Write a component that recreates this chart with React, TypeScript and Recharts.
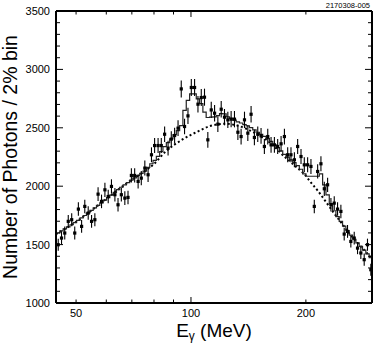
import React from 'react';
import { ComposedChart, XAxis, YAxis, Scatter, Line, ErrorBar } from 'recharts';

// Photon energy bin centres (MeV), 2% bins
const binEnergies = [
  44.9, 45.8, 46.7, 47.7, 48.7, 49.6, 50.7, 51.7, 52.7, 53.8,
  54.9, 56.0, 57.1, 58.3, 59.5, 60.7, 61.9, 63.2, 64.4, 65.7,
  67.1, 68.4, 69.8, 71.2, 72.7, 74.1, 75.7, 77.2, 78.8, 80.3,
  82.0, 83.6, 85.3, 87.1, 88.8, 90.6, 92.5, 94.3, 96.2, 98.2,
  100.2, 102.2, 104.3, 106.4, 108.5, 110.7, 113.0, 115.3, 117.6, 120.0,
  122.4, 124.9, 127.4, 130.0, 132.7, 135.3, 138.1, 140.9, 143.7, 146.6,
  149.6, 152.6, 155.7, 158.9, 162.1, 165.4, 168.7, 172.2, 175.7, 179.2,
  182.8, 186.6, 190.3, 194.2, 198.1, 202.1, 206.2, 210.4, 214.7, 219.0,
  223.5, 228.0, 232.6, 237.3, 242.1, 247.0, 252.0, 257.1, 262.3, 267.7,
  273.1, 278.6, 284.3, 290.0, 295.9,
];

// Measured photon counts per bin
const counts = [
  1499, 1556, 1599, 1699, 1713, 1599, 1804, 1656, 1827, 1770,
  1699, 1713, 1932, 1870, 1969, 1912, 1998, 1927, 1841, 1927,
  1898, 1904, 2092, 2092, 2041, 2069, 2155, 2098, 2269, 2348,
  2348, 2348, 2445, 2326, 2403, 2434, 2497, 2833, 2511, 2602,
  2845, 2845, 2702, 2759, 2762, 2397, 2653, 2625, 2531, 2659,
  2591, 2568, 2574, 2574, 2462, 2425, 2568, 2454, 2616, 2417,
  2445, 2431, 2340, 2425, 2354, 2354, 2340, 2363, 2425, 2269,
  2269, 2226, 2340, 2254, 2183, 2183, 2169, 1827, 2126, 2192,
  1978, 2012, 1841, 1855, 1804, 1784, 1590, 1613, 1527, 1556,
  1470, 1428, 1371, 1499, 1285,
];

// Statistical errors per bin
const countErrors = [
  52, 55, 55, 55, 55, 55, 58, 55, 58, 58,
  55, 55, 58, 58, 61, 58, 61, 58, 58, 58,
  58, 58, 61, 61, 61, 61, 64, 61, 64, 64,
  64, 64, 67, 64, 67, 67, 67, 73, 67, 70,
  73, 73, 70, 73, 73, 67, 70, 70, 67, 70,
  70, 70, 70, 70, 67, 67, 70, 67, 70, 67,
  67, 67, 64, 67, 67, 67, 64, 67, 67, 64,
  64, 64, 64, 64, 64, 64, 64, 58, 61, 64,
  61, 61, 58, 58, 58, 58, 55, 55, 52, 55,
  52, 52, 52, 52, 52,
];

// Full fit (histogram) per bin
const fitCounts = [
  1600, 1618, 1635, 1652, 1670, 1688, 1708, 1728, 1749, 1771,
  1793, 1814, 1835, 1857, 1880, 1902, 1924, 1947, 1970, 1991,
  2011, 2031, 2052, 2071, 2090, 2109, 2129, 2161, 2192, 2221,
  2256, 2296, 2338, 2373, 2405, 2441, 2475, 2518, 2650, 2735,
  2791, 2790, 2748, 2707, 2635, 2588, 2592, 2593, 2604, 2622,
  2619, 2594, 2580, 2565, 2551, 2541, 2527, 2516, 2501, 2482,
  2462, 2444, 2426, 2407, 2383, 2357, 2330, 2302, 2273, 2249,
  2225, 2201, 2176, 2145, 2105, 2085, 2085, 2085, 2085, 2105,
  2012, 1926, 1850, 1790, 1740, 1698, 1658, 1619, 1581, 1546,
  1514, 1484, 1453, 1421, 1388,
];

// Smooth background (dotted)
const bgEnergies = [
  44.3, 50, 55, 60, 65, 70, 75, 80, 86, 90, 95, 100, 106, 112, 118, 124, 130,
  140, 150, 160, 170, 176, 180, 190, 197, 206, 215.6, 228.5, 235, 250, 260,
  271, 283, 294, 298,
];
const bgCounts = [
  1590, 1695, 1795, 1890, 1980, 2055, 2120, 2190, 2300, 2350, 2400, 2440, 2480,
  2515, 2530, 2535, 2525, 2490, 2440, 2380, 2300, 2250, 2224, 2156, 2112, 2033,
  1955, 1841, 1785, 1670, 1595, 1527, 1460, 1399, 1375,
];

const xTicks = [50, 60, 70, 80, 90, 100, 200];
const xLabelTicks = [50, 100, 200];
const xMajorTicks = [100];
const yTicks = [
  1000, 1100, 1200, 1300, 1400, 1500, 1600, 1700, 1800, 1900, 2000, 2100, 2200,
  2300, 2400, 2500, 2600, 2700, 2800, 2900, 3000, 3100, 3200, 3300, 3400, 3500,
];
const yLabelTicks = [1000, 1500, 2000, 2500, 3000, 3500];

const pointRows = binEnergies.map((x, i) => ({ x, y: counts[i], err: countErrors[i], fit: fitCounts[i] }));
const bgRows = bgEnergies.map((x, i) => ({ x, bg: bgCounts[i] }));

const FONT = '"Liberation Sans", Arial, Helvetica, sans-serif';

const BottomTick = (props: any) => {
  const { x, y, payload } = props;
  const v = payload.value;
  const len = xMajorTicks.includes(v) ? 6 : 3.5;
  return (
    <g>
      <line x1={x} x2={x} y1={y} y2={y - len} stroke="#000" strokeWidth={1} />
      {xLabelTicks.includes(v) && (
        <text x={x} y={y + 14} textAnchor="middle" fontSize={11} fontFamily={FONT} fill="#000">
          {v}
        </text>
      )}
    </g>
  );
};

const TopTick = (props: any) => {
  const { x, y, payload } = props;
  const v = payload.value;
  const len = xMajorTicks.includes(v) ? 6 : 3.5;
  return <line x1={x} x2={x} y1={y} y2={y + len} stroke="#000" strokeWidth={1} />;
};

const LeftTick = (props: any) => {
  const { x, y, payload } = props;
  const v = payload.value;
  const major = yLabelTicks.includes(v);
  return (
    <g>
      <line x1={x} x2={x + (major ? 7 : 4)} y1={y} y2={y} stroke="#000" strokeWidth={1} />
      {major && (
        <text x={x - 6} y={y + 4} textAnchor="end" fontSize={11} fontFamily={FONT} fill="#000">
          {v}
        </text>
      )}
    </g>
  );
};

const RightTick = (props: any) => {
  const { x, y, payload } = props;
  const major = yLabelTicks.includes(payload.value);
  return <line x1={x} x2={x - (major ? 7 : 4)} y1={y} y2={y} stroke="#000" strokeWidth={1} />;
};

const PointShape = (props: any) => {
  const { cx, cy } = props;
  if (cx == null || cy == null) return null;
  return <rect x={cx - 1.6} y={cy - 1.6} width={3.2} height={3.2} fill="#000" />;
};

export default function App() {
  return (
    <div style={{ position: 'absolute', left: 0, top: 0, width: 374, height: 346, background: '#fff' }}>
      <svg width={374} height={346} style={{ position: 'absolute', left: 0, top: 0, pointerEvents: 'none', zIndex: 2 }}>
        <text x={370} y={7.5} textAnchor="end" fontSize={7.5} fontFamily={FONT} fill="#000">
          2170308-005
        </text>
        <text
          x={16.5}
          y={157}
          transform="rotate(-90 16.5 157)"
          textAnchor="middle"
          fontSize={19.5}
          fontFamily={FONT}
          fill="#000"
        >
          Number of Photons / 2% bin
        </text>
        <text x={214} y={337} textAnchor="middle" fontSize={19} fontFamily={FONT} fill="#000">
          E<tspan fontSize={12} dy={3}>γ</tspan>
          <tspan dy={-3}> (MeV)</tspan>
        </text>
      </svg>
      <ComposedChart
        width={374}
        height={346}
        margin={{ top: 10, right: 1, bottom: 0, left: 10 }}
        style={{ position: 'absolute', left: 0, top: 0 }}
      >
        <XAxis
          xAxisId="b"
          dataKey="x"
          type="number"
          scale="log"
          domain={[44.3, 298]}
          allowDataOverflow
          ticks={xTicks}
          interval={0}
          tickSize={0}
          tickMargin={0}
          tickLine={false}
          axisLine={{ stroke: '#000', strokeWidth: 2 }}
          tick={<BottomTick />}
          height={43}
        />
        <XAxis
          xAxisId="t"
          orientation="top"
          dataKey="x"
          type="number"
          scale="log"
          domain={[44.3, 298]}
          allowDataOverflow
          ticks={xTicks}
          interval={0}
          tickSize={0}
          tickMargin={0}
          tickLine={false}
          axisLine={{ stroke: '#000', strokeWidth: 2 }}
          tick={<TopTick />}
          height={1}
        />
        <YAxis
          yAxisId="l"
          type="number"
          domain={[1000, 3500]}
          allowDataOverflow
          ticks={yTicks}
          interval={0}
          tickSize={0}
          tickMargin={0}
          tickLine={false}
          axisLine={{ stroke: '#000', strokeWidth: 2 }}
          tick={<LeftTick />}
          width={46}
        />
        <YAxis
          yAxisId="r"
          orientation="right"
          type="number"
          domain={[1000, 3500]}
          allowDataOverflow
          ticks={yTicks}
          interval={0}
          tickSize={0}
          tickMargin={0}
          tickLine={false}
          axisLine={{ stroke: '#000', strokeWidth: 2 }}
          tick={<RightTick />}
          width={1}
        />
        {/* invisible series binding the mirrored top/right frame axes */}
        <Line
          xAxisId="t"
          yAxisId="r"
          data={pointRows}
          dataKey="fit"
          stroke="none"
          strokeWidth={0}
          dot={false}
          activeDot={false}
          legendType="none"
          isAnimationActive={false}
        />
        <Line
          xAxisId="b"
          yAxisId="l"
          data={bgRows}
          dataKey="bg"
          type="monotone"
          stroke="#000"
          strokeWidth={2}
          strokeDasharray="2 2.5"
          dot={false}
          activeDot={false}
          isAnimationActive={false}
        />
        <Line
          xAxisId="b"
          yAxisId="l"
          data={pointRows}
          dataKey="fit"
          type="step"
          stroke="#222"
          strokeWidth={1.2}
          dot={false}
          activeDot={false}
          isAnimationActive={false}
        />
        <Scatter
          xAxisId="b"
          yAxisId="l"
          data={pointRows}
          dataKey="y"
          shape={<PointShape />}
          isAnimationActive={false}
        >
          <ErrorBar dataKey="err" direction="y" width={0} stroke="#000" strokeWidth={1.1} />
        </Scatter>
      </ComposedChart>
    </div>
  );
}
